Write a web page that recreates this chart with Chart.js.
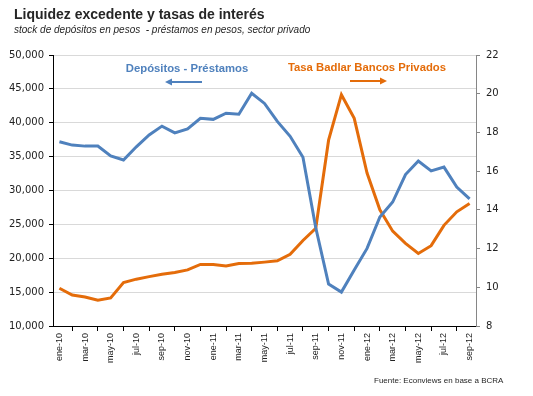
<!DOCTYPE html>
<html>
<head>
<meta charset="utf-8">
<script src="https://cdn.jsdelivr.net/npm/chart.js@4"></script>
<style>
    body { margin: 0; background: #fff; }
    .wrap { position: relative; width: 533px; height: 396px; }
    #chart { position: absolute; left: 0; top: 0; }
    .title { position: absolute; left: 14px; top: 6px; font: bold 14px "Liberation Sans", Arial, sans-serif; color: #262626; white-space: nowrap; }
    .subtitle { position: absolute; left: 14px; top: 24px; font: italic 10px "Liberation Sans", Arial, sans-serif; color: #262626; white-space: pre; }
    .source { position: absolute; left: 374px; top: 376px; font: 8px "Liberation Sans", Arial, sans-serif; color: #262626; white-space: nowrap; }
</style>
</head>
<body>
<div class="wrap">
    <canvas id="chart" width="533" height="396"></canvas>
    <div class="title">Liquidez excedente y tasas de interés</div>
    <div class="subtitle">stock de depósitos en pesos  - préstamos en pesos, sector privado</div>
    <div class="source">Fuente: Econviews en base a BCRA</div>
</div>
<script>
const months = [
    'ene-10', 'feb-10', 'mar-10', 'abr-10', 'may-10', 'jun-10', 'jul-10', 'ago-10', 'sep-10', 'oct-10', 'nov-10', 'dic-10',
    'ene-11', 'feb-11', 'mar-11', 'abr-11', 'may-11', 'jun-11', 'jul-11', 'ago-11', 'sep-11', 'oct-11', 'nov-11', 'dic-11',
    'ene-12', 'feb-12', 'mar-12', 'abr-12', 'may-12', 'jun-12', 'jul-12', 'ago-12', 'sep-12'
];

// depositos - prestamos, millones de pesos (eje izq)
const depositosPrestamos = [
    37200, 36700, 36550, 36550, 35100, 34500, 36450, 38200, 39500, 38500, 39100, 40650,
    40500, 41400, 41250, 44350, 42850, 40200, 38000, 34900, 24500, 16200, 15000, 18250,
    21450, 26100, 28300, 32350, 34350, 32900, 33450, 30500, 28750
];

// tasa badlar bancos privados, % (eje der)
const tasaBadlar = [
    9.95, 9.6, 9.5, 9.33, 9.45, 10.24, 10.42, 10.55, 10.67, 10.76, 10.9, 11.18,
    11.18, 11.1, 11.23, 11.24, 11.3, 11.37, 11.7, 12.42, 13.05, 17.6, 19.95, 18.73,
    15.9, 14.0, 12.9, 12.27, 11.75, 12.15, 13.2, 13.9, 14.33
];

const leftTicks = [10000, 15000, 20000, 25000, 30000, 35000, 40000, 45000, 50000];
const rightTicks = [8, 10, 12, 14, 16, 18, 20, 22];

const BLUE = '#4f81bd';
const ORANGE = '#e46c0a';

function drawArrow(c, x1, x2, y, color) {
    const dir = x2 > x1 ? 1 : -1;
    c.strokeStyle = color;
    c.fillStyle = color;
    c.lineWidth = 2;
    c.beginPath();
    c.moveTo(x1, y);
    c.lineTo(x2 - dir * 5, y);
    c.stroke();
    c.beginPath();
    c.moveTo(x2, y);
    c.lineTo(x2 - dir * 7, y - 3.5);
    c.lineTo(x2 - dir * 7, y + 3.5);
    c.closePath();
    c.fill();
}

// etiquetas de las series dentro del grafico
const seriesLabels = {
    id: 'seriesLabels',
    afterDraw(chart) {
        const c = chart.ctx;
        const area = chart.chartArea;
        c.save();
        c.font = 'bold 11.3px "Liberation Sans", Arial, sans-serif';
        c.textAlign = 'center';
        c.textBaseline = 'middle';
        c.fillStyle = BLUE;
        c.fillText('Depósitos - Préstamos', area.left + 134, area.top + 14);
        drawArrow(c, area.left + 149, area.left + 112, area.top + 27, BLUE);
        c.fillStyle = ORANGE;
        c.fillText('Tasa Badlar Bancos Privados', area.left + 314, area.top + 13);
        drawArrow(c, area.left + 297, area.left + 334, area.top + 26, ORANGE);
        c.restore();
    }
};

const ctx = document.getElementById('chart').getContext('2d');
new Chart(ctx, {
    type: 'line',
    data: {
        labels: months,
        datasets: [
            {
                label: 'Depósitos - Préstamos',
                data: depositosPrestamos,
                yAxisID: 'y',
                borderColor: BLUE,
                borderWidth: 3,
                pointRadius: 0,
                tension: 0
            },
            {
                label: 'Tasa Badlar Bancos Privados',
                data: tasaBadlar,
                yAxisID: 'y1',
                borderColor: ORANGE,
                borderWidth: 3,
                pointRadius: 0,
                tension: 0
            }
        ]
    },
    options: {
        responsive: false,
        animation: false,
        layout: { padding: { top: 55, left: 0, right: 0, bottom: 0 } },
        plugins: {
            legend: { display: false },
            tooltip: { enabled: false }
        },
        scales: {
            x: {
                offset: true,
                afterFit: s => { s.height = 70; },
                grid: {
                    offset: true,
                    drawOnChartArea: false,
                    tickLength: 5,
                    tickColor: '#000'
                },
                border: { color: '#000', width: 1 },
                ticks: {
                    autoSkip: false,
                    minRotation: 90,
                    maxRotation: 90,
                    padding: 2,
                    color: '#222',
                    font: { family: '"Liberation Sans", Arial, sans-serif', size: 9 },
                    callback: function(val, i) {
                        return i % 2 === 0 ? months[i] : null;
                    }
                }
            },
            y: {
                position: 'left',
                min: leftTicks[0],
                max: leftTicks[leftTicks.length - 1],
                afterFit: s => { s.width = 53; },
                afterBuildTicks: s => { s.ticks = leftTicks.map(v => ({ value: v })); },
                grid: {
                    color: '#d9d9d9',
                    tickColor: '#000',
                    tickLength: 4
                },
                border: { color: '#000', width: 1 },
                ticks: {
                    padding: 5,
                    color: '#222',
                    font: { family: '"DejaVu Sans", sans-serif', size: 10 },
                    callback: v => v.toLocaleString('en-US')
                }
            },
            y1: {
                position: 'right',
                min: rightTicks[0],
                max: rightTicks[rightTicks.length - 1],
                afterFit: s => { s.width = 57; },
                afterBuildTicks: s => { s.ticks = rightTicks.map(v => ({ value: v })); },
                grid: {
                    drawOnChartArea: false,
                    tickColor: '#868686',
                    tickLength: 4
                },
                border: { color: '#868686', width: 1 },
                ticks: {
                    padding: 6,
                    color: '#222',
                    font: { family: '"DejaVu Sans", sans-serif', size: 10 }
                }
            }
        }
    },
    plugins: [seriesLabels]
});
</script>
</body>
</html>
